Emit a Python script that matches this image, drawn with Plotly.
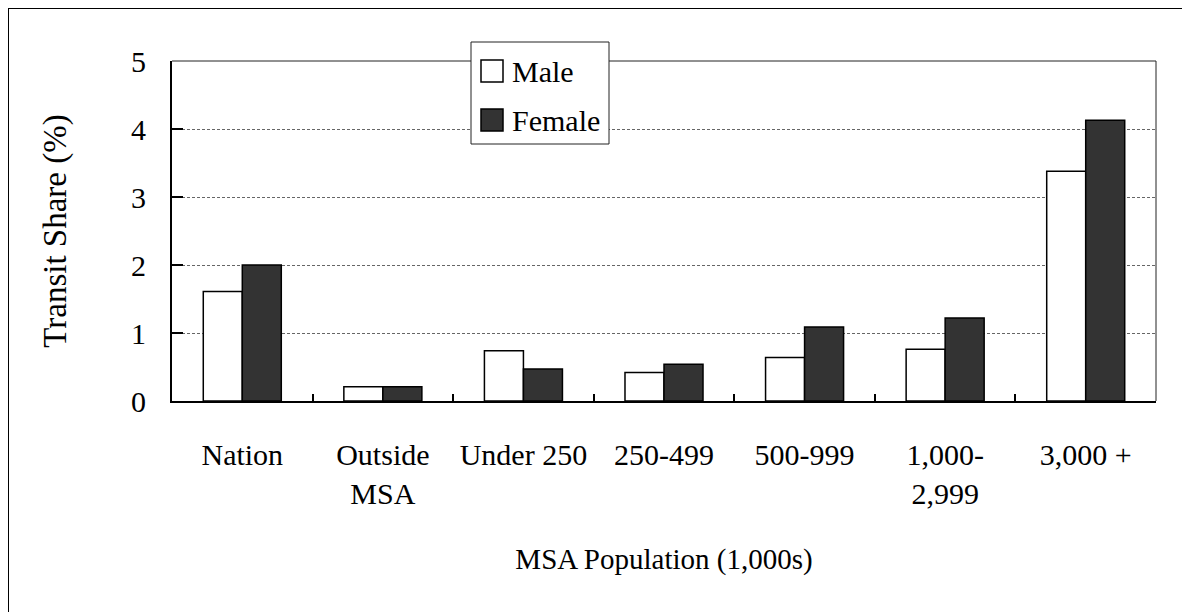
import plotly.graph_objects as go

categories = ["Nation", "Outside<br>MSA", "Under 250", "250-499", "500-999", "1,000-<br>2,999", "3,000 +"]
male = [1.61, 0.21, 0.74, 0.42, 0.64, 0.76, 3.38]
female = [2.0, 0.21, 0.47, 0.54, 1.09, 1.22, 4.13]
series_names = ["Male", "Female"]
y_ticks = [0, 1, 2, 3, 4, 5]

# page size and page offset of the figure (browser body margin)
PAGE_W, PAGE_H, OFF = 1190, 612, 8
L, R, T, B = 172, 1156, 61, 401  # plot area in page pixels
FONT = "Liberation Serif"


def px(x):
    return (x - L) / (R - L)


def py(y):
    return (B - y) / (B - T)


fig = go.Figure()
fig.add_trace(go.Bar(x=categories, y=male, name=series_names[0],
                     marker=dict(color="white", line=dict(color="black", width=1.5))))
fig.add_trace(go.Bar(x=categories, y=female, name=series_names[1],
                     marker=dict(color="#333333", line=dict(color="black", width=1.5))))

shapes = []
# outer frame (top and left edges)
shapes.append(dict(type="line", xref="paper", yref="paper", x0=px(8), x1=px(1200), y0=py(8), y1=py(8),
                   line=dict(color="black", width=2)))
shapes.append(dict(type="line", xref="paper", yref="paper", x0=px(8), x1=px(8), y0=py(8), y1=py(620),
                   line=dict(color="black", width=2)))
# plot border top and right
shapes.append(dict(type="line", xref="paper", yref="paper", x0=0, x1=1, y0=1, y1=1,
                   line=dict(color="#222222", width=1)))
shapes.append(dict(type="line", xref="paper", yref="paper", x0=1, x1=1, y0=0, y1=1,
                   line=dict(color="#222222", width=1)))
# legend box
shapes.append(dict(type="rect", xref="paper", yref="paper", x0=px(471), x1=px(609), y0=py(42), y1=py(144),
                   fillcolor="white", line=dict(color="#222222", width=1), layer="above"))
# legend swatches
shapes.append(dict(type="rect", xref="paper", yref="paper", x0=px(481), x1=px(503), y0=py(60), y1=py(82),
                   fillcolor="white", line=dict(color="black", width=1.5), layer="above"))
shapes.append(dict(type="rect", xref="paper", yref="paper", x0=px(481), x1=px(503), y0=py(109), y1=py(131),
                   fillcolor="#333333", line=dict(color="black", width=1.5), layer="above"))

annotations = [
    dict(text=series_names[0], xref="paper", yref="paper", x=px(510), y=py(71), xanchor="left", yanchor="middle",
         showarrow=False, font=dict(family=FONT, size=30, color="black")),
    dict(text=series_names[1], xref="paper", yref="paper", x=px(510), y=py(120), xanchor="left", yanchor="middle",
         showarrow=False, font=dict(family=FONT, size=30, color="black")),
]

fig.update_layout(
    width=PAGE_W - OFF, height=PAGE_H - OFF,
    margin=dict(l=L - OFF, r=PAGE_W - R, t=T - OFF, b=PAGE_H - B, autoexpand=False),
    paper_bgcolor="white", plot_bgcolor="white",
    barmode="group", bargap=0.445, bargroupgap=0,
    showlegend=False,
    font=dict(family=FONT, size=30, color="black"),
    shapes=shapes, annotations=annotations,
)
fig.update_xaxes(
    showline=True, linewidth=2, linecolor="black",
    ticks="inside", ticklen=7, tickwidth=1.5, tickcolor="black", tickson="boundaries",
    showgrid=False, tickfont=dict(family=FONT, size=30, color="black"),
    title=dict(text="MSA Population (1,000s)", font=dict(family=FONT, size=29, color="black"), standoff=40),
    ticklabelstandoff=26,
)
fig.update_yaxes(
    range=[0, 5], tickvals=y_ticks, showline=True, linewidth=2, linecolor="black",
    ticks="inside", ticklen=11, tickwidth=1.5, tickcolor="black",
    showgrid=True, gridcolor="#666666", gridwidth=1, griddash="3px,2px", zeroline=False,
    tickfont=dict(family=FONT, size=30, color="black"), ticklabelstandoff=18,
    title=dict(text="Transit Share (%)", font=dict(family=FONT, size=33, color="black"), standoff=54),
)

fig.write_html("out.html")
